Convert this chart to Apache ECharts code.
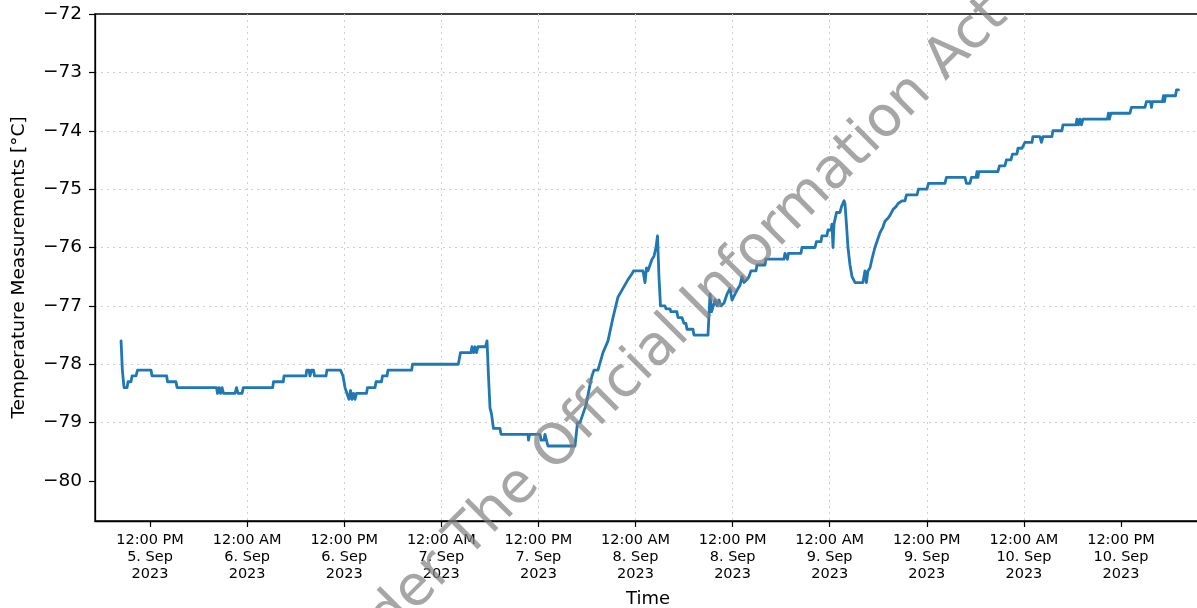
<!DOCTYPE html>
<html>
<head>
<meta charset="utf-8">
<script src="https://cdn.jsdelivr.net/npm/echarts@6/dist/echarts.min.js"></script>
<style>
html,body{margin:0;padding:0;background:#fff;}
#c{width:1197px;height:608px;}
</style>
</head>
<body>
<div id="c"></div>
<script>
// hours since 5 Sep 2023 00:00
const hours = [8.42,8.58,8.79,9.16,9.28,9.65,9.78,10.27,10.46,12.12,12.25,14.06,14.16,15.21,15.34,20.22,
20.34,20.53,20.71,20.90,21.08,22.50,22.69,22.88,23.37,23.53,27.16,27.26,28.47,28.56,31.28,
31.37,31.65,31.77,31.96,32.21,32.33,33.75,33.87,35.54,35.85,36.10,36.34,36.59,36.78,36.96,37.15,37.33,37.52,
38.75,38.88,39.81,39.93,40.61,40.73,41.29,41.41,44.34,44.44,50.10,50.37,51.67,51.79,51.98,52.16,52.35,52.53,
53.46,53.65,53.83,54.02,54.20,54.45,55.25,55.38,58.71,58.78,58.90,60.20,60.32,60.69,60.81,61.00,61.18,64.52,
64.83,65.14,65.51,65.88,66.38,66.62,66.87,67.36,67.98,68.60,69.22,69.83,70.45,71.07,71.57,71.75,72.93,73.17,
73.36,73.54,73.79,74.04,74.29,74.53,74.72,74.90,75.09,75.64,75.77,76.26,76.38,77.12,77.25,77.74,77.99,78.24,
78.36,79.10,79.23,80.96,81.21,81.39,81.58,81.83,82.07,82.32,82.57,82.94,83.31,83.68,83.93,84.30,84.67,84.91,
85.16,85.41,85.78,86.02,86.27,86.89,87.01,88.00,88.12,90.35,90.47,90.66,90.78,90.90,92.45,92.57,94.18,94.36,
94.92,95.04,95.66,95.79,96.16,96.28,96.41,96.53,96.84,97.27,97.46,97.64,97.77,97.89,98.07,98.26,98.51,98.76,
99.00,99.13,100.11,100.36,100.54,100.73,100.98,101.22,101.59,101.96,102.21,102.58,102.83,103.20,103.45,103.82,
104.19,104.44,104.93,105.30,105.49,106.79,106.97,108.02,108.21,110.24,110.43,112.72,112.90,113.33,113.52,
114.08,114.20,114.32,114.45,116.79,116.98,117.66,117.84,118.40,118.59,119.14,119.27,119.76,120.13,121.00,
121.12,121.98,122.17,122.36,123.47,123.59,124.70,124.83,126.43,126.56,126.74,126.93,127.11,127.30,130.33,
130.45,130.57,130.76,133.11,133.29,134.96,135.15,135.64,135.77,135.89,137.13,137.25,137.38,137.50,138.74,
138.86,139.11];
const temps = [-77.6,-78.1,-78.4,-78.4,-78.3,-78.3,-78.2,-78.2,-78.1,-78.1,-78.2,-78.2,-78.3,-78.3,-78.4,-78.4,
-78.5,-78.4,-78.5,-78.4,-78.5,-78.5,-78.4,-78.5,-78.5,-78.4,-78.4,-78.3,-78.3,-78.2,-78.2,
-78.1,-78.1,-78.2,-78.1,-78.1,-78.2,-78.2,-78.1,-78.1,-78.2,-78.4,-78.5,-78.6,-78.45,-78.6,-78.5,-78.6,-78.5,
-78.5,-78.4,-78.4,-78.3,-78.3,-78.2,-78.2,-78.1,-78.1,-78.0,-78.0,-77.8,-77.8,-77.7,-77.8,-77.7,-77.8,-77.7,
-77.7,-77.6,-78.2,-78.75,-78.85,-79.1,-79.1,-79.2,-79.2,-79.3,-79.2,-79.2,-79.3,-79.3,-79.2,-79.2,-79.4,-79.4,
-79.0,-79.0,-78.85,-78.7,-78.35,-78.2,-78.1,-78.1,-77.8,-77.6,-77.2,-76.85,-76.7,-76.55,-76.45,-76.4,-76.4,-76.6,
-76.35,-76.4,-76.3,-76.2,-76.15,-76.0,-75.8,-76.5,-77.0,-77.0,-77.05,-77.05,-77.1,-77.1,-77.2,-77.2,-77.3,-77.3,
-77.4,-77.4,-77.5,-77.5,-76.8,-77.1,-77.1,-76.9,-77.0,-76.9,-77.0,-76.95,-76.8,-76.7,-76.9,-76.8,-76.7,-76.65,
-76.5,-76.6,-76.55,-76.5,-76.4,-76.4,-76.3,-76.3,-76.2,-76.2,-76.1,-76.1,-76.2,-76.1,-76.1,-76.0,-76.0,-75.9,
-75.9,-75.8,-75.8,-75.7,-75.7,-75.6,-76.0,-75.6,-75.4,-75.4,-75.3,-75.3,-75.2,-75.25,-75.6,-76.0,-76.3,-76.5,
-76.5,-76.6,-76.6,-76.4,-76.6,-76.4,-76.35,-76.2,-76.0,-75.85,-75.75,-75.65,-75.55,-75.5,-75.45,-75.35,
-75.3,-75.25,-75.2,-75.2,-75.1,-75.1,-75.0,-75.0,-74.9,-74.9,-74.8,-74.8,-74.9,-74.9,-74.8,
-74.8,-74.7,-74.8,-74.7,-74.7,-74.6,-74.6,-74.5,-74.5,-74.4,-74.4,-74.3,-74.3,-74.2,-74.2,
-74.1,-74.1,-74.2,-74.1,-74.1,-74.0,-74.0,-73.9,-73.9,-73.8,-73.9,-73.8,-73.9,-73.8,-73.8,
-73.7,-73.8,-73.7,-73.7,-73.6,-73.6,-73.5,-73.5,-73.6,-73.5,-73.5,-73.4,-73.5,-73.4,-73.4,
-73.3,-73.3];
const xTickHours = [12,24,36,48,60,72,84,96,108,120,132];
const xTickLabels = ['12:00 PM\n5. Sep\n2023','12:00 AM\n6. Sep\n2023','12:00 PM\n6. Sep\n2023',
'12:00 AM\n7. Sep\n2023','12:00 PM\n7. Sep\n2023','12:00 AM\n8. Sep\n2023','12:00 PM\n8. Sep\n2023',
'12:00 AM\n9. Sep\n2023','12:00 PM\n9. Sep\n2023','12:00 AM\n10. Sep\n2023','12:00 PM\n10. Sep\n2023'];
const yTicks = [-80,-79,-78,-77,-76,-75,-74,-73,-72];
const yTickLabels = ['\u221280','\u221279','\u221278','\u221277','\u221276','\u221275','\u221274','\u221273','\u221272'];
const watermark = 'Released Under The Official Information Act 1982';

const FONT = 'DejaVu Sans';
const chart = echarts.init(document.getElementById('c'), null, {renderer:'canvas'});
const data = hours.map((h,i)=>[h,temps[i]]);
const gridLine = {show:true, showMinLine:false, showMaxLine:false, lineStyle:{color:'#cfcfcf', width:1, type:[2,4]}};
chart.setOption({
  animation:false,
  backgroundColor:'#fff',
  grid:{left:95, right:-4, top:14, bottom:87, show:true, borderColor:'#000', borderWidth:1.3, backgroundColor:'transparent', containLabel:false, outerBoundsMode:'none'},
  xAxis:{
    type:'value', min:5.20, max:141.89,
    name:'Time', nameLocation:'middle', nameGap:69,
    nameTextStyle:{fontFamily:FONT, fontSize:18, color:'#000'},
    axisLine:{show:true, lineStyle:{color:'#000', width:1.3}},
    axisTick:{show:true, inside:false, length:6, customValues:xTickHours, lineStyle:{color:'#000', width:1.2}},
    axisLabel:{show:true, customValues:xTickHours, margin:11, fontFamily:FONT, fontSize:14.5, lineHeight:17, color:'#000', align:'center',
      formatter:(v)=>{const i=xTickHours.indexOf(Math.round(v)); return i>=0?xTickLabels[i]:'';}},
    splitLine:gridLine
  },
  yAxis:{
    type:'value', min:-80.685, max:-72,
    name:'Temperature Measurements [°C]', nameLocation:'middle', nameGap:66,
    nameTextStyle:{fontFamily:FONT, fontSize:18.5, color:'#000'},
    axisLine:{show:true, lineStyle:{color:'#000', width:1.3}},
    axisTick:{show:true, inside:false, length:6, customValues:yTicks, lineStyle:{color:'#000', width:1.2}},
    axisLabel:{show:true, customValues:yTicks, margin:13, fontFamily:FONT, fontSize:18.5, color:'#000',
      formatter:(v)=>{const i=yTicks.indexOf(Math.round(v)); return i>=0?yTickLabels[i]:'';}},
    splitLine:gridLine
  },
  series:[{
    type:'line', data:data, showSymbol:false, symbol:'none',
    lineStyle:{color:'#1f77b4', width:2.8, join:'round', cap:'round'},
    z:2
  }],
  graphic:[{
    type:'text', x:622, y:384, rotation:Math.PI/4, z:100,
    style:{text:watermark, fontFamily:FONT, fontSize:56, fill:'rgba(128,128,128,0.7)', align:'center', verticalAlign:'middle'}
  }]
});
</script>
</body>
</html>
